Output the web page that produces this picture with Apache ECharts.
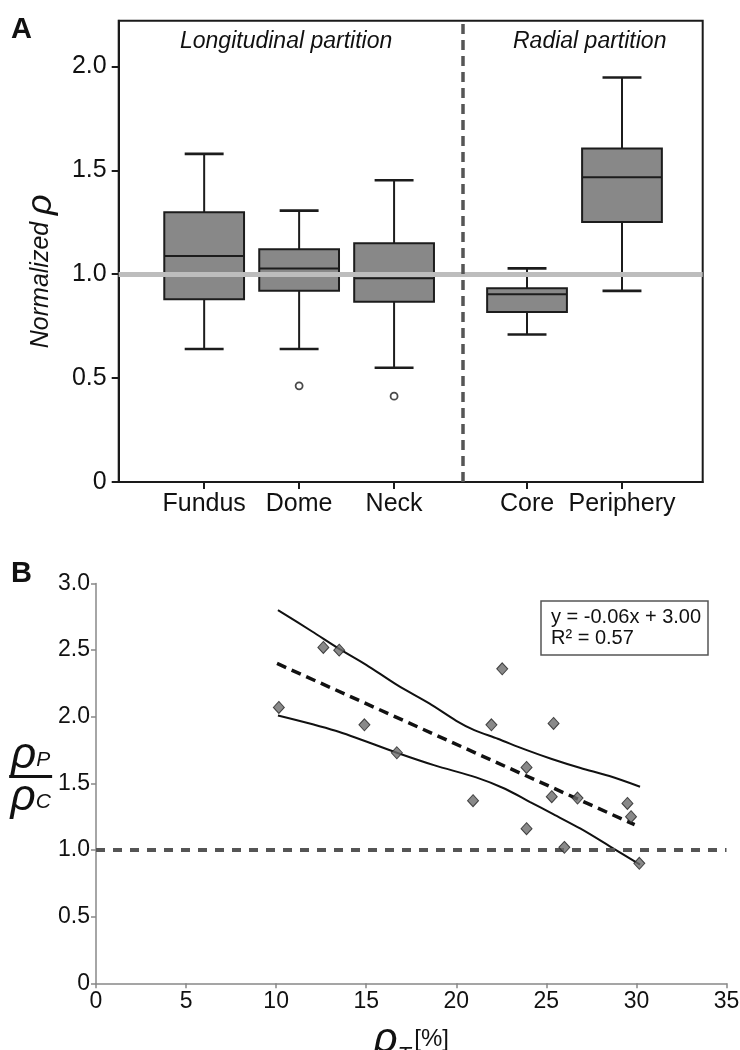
<!DOCTYPE html>
<html>
<head>
<meta charset="utf-8">
<script src="https://cdn.jsdelivr.net/npm/echarts@6/dist/echarts.min.js"></script>
<style>
html,body{margin:0;padding:0;background:#fff;}
#chart{width:740px;height:1050px;}
</style>
</head>
<body>
<div id="chart"></div>
<script>
// ---------- Panel A data ----------
const groups = ['Fundus', 'Dome', 'Neck', 'Core', 'Periphery'];
const groupPositions = [1, 2, 3, 4.4, 5.4];
const whiskerLow = [0.64, 0.64, 0.55, 0.71, 0.92];
const quartile1 = [0.88, 0.92, 0.867, 0.818, 1.251];
const medians = [1.088, 1.028, 0.98, 0.904, 1.467];
const quartile3 = [1.298, 1.12, 1.149, 0.933, 1.605];
const whiskerHigh = [1.579, 1.306, 1.452, 1.028, 1.947];
const outlierGroups = ['Dome', 'Neck'];
const outlierValues = [0.463, 0.413];
const partitionLabels = ['Longitudinal partition', 'Radial partition'];
const partitionBoundary = 3.72;
const referenceLevelA = 1.0;
const yTicksA = [0, 0.5, 1.0, 1.5, 2.0];

// ---------- Panel B data ----------
const rhoT = [10.15, 12.62, 13.5, 14.9, 16.7, 20.93, 21.95, 22.55, 23.9, 23.9, 25.3, 25.4, 26.0, 26.73, 29.5, 29.7, 30.16];
const ratioPC = [2.07, 2.52, 2.50, 1.94, 1.73, 1.37, 1.94, 2.36, 1.62, 1.16, 1.40, 1.95, 1.02, 1.39, 1.35, 1.25, 0.90];
const fitX = [10.05, 29.9];
const fitY = [2.40, 1.19];
const upperBandX = [10.1, 12, 13.5, 15, 16.75, 18.5, 20, 21, 22.3, 23.8, 25.3, 26.9, 28.5, 30.2];
const upperBandY = [2.80, 2.64, 2.51, 2.39, 2.235, 2.10, 1.97, 1.90, 1.835, 1.755, 1.683, 1.615, 1.555, 1.475];
const lowerBandX = [10.1, 13.3, 16.7, 18.8, 21.1, 22.7, 24.1, 25.3, 26.9, 28.5, 30.2];
const lowerBandY = [2.01, 1.895, 1.73, 1.635, 1.545, 1.46, 1.36, 1.275, 1.16, 1.03, 0.89];
const referenceLevelB = 1.0;
const equationLines = ['y = -0.06x + 3.00', 'R\u00B2 = 0.57'];

// ---------- layout / style constants ----------
const FONT = '"Liberation Sans", Arial, sans-serif';
const BOX_WIDTH = 0.84;
const CAP_WIDTH = 0.41;

const boxData = groups.map((g, i) => [groupPositions[i], whiskerLow[i], quartile1[i], medians[i], quartile3[i], whiskerHigh[i]]);
const outlierData = outlierGroups.map((g, i) => [groupPositions[groups.indexOf(g)], outlierValues[i]]);
const scatterData = rhoT.map((x, i) => [x, ratioPC[i]]);
const fitData = fitX.map((x, i) => [x, fitY[i]]);
const upperData = upperBandX.map((x, i) => [x, upperBandY[i]]);
const lowerData = lowerBandX.map((x, i) => [x, lowerBandY[i]]);

const chart = echarts.init(document.getElementById('chart'), null, {renderer: 'canvas'});

const option = {
  backgroundColor: '#ffffff',
  animation: false,
  title: [
    {text: 'A', left: 11, top: 15, padding: 0, textStyle: {fontFamily: FONT, fontSize: 29, fontWeight: 'bold', color: '#111'}},
    {text: 'B', left: 11, top: 559, padding: 0, textStyle: {fontFamily: FONT, fontSize: 29, fontWeight: 'bold', color: '#111'}},
    {text: partitionLabels[0], left: 180, top: 30, padding: 0, textStyle: {fontFamily: FONT, fontSize: 23, fontStyle: 'italic', fontWeight: 'normal', color: '#111'}},
    {text: partitionLabels[1], left: 513, top: 30, padding: 0, textStyle: {fontFamily: FONT, fontSize: 23, fontStyle: 'italic', fontWeight: 'normal', color: '#111'}},
    {text: equationLines.join('\n'), left: 541, top: 601, padding: [6, 7, 6, 10],
      borderColor: '#555', borderWidth: 1.5, backgroundColor: '#fff',
      textStyle: {fontFamily: FONT, fontSize: 20, lineHeight: 21, fontWeight: 'normal', color: '#111'}}
  ],
  grid: [
    {left: 118.7, top: 20.7, width: 584, height: 461.3, show: true, borderColor: '#1a1a1a', borderWidth: 2,
      backgroundColor: 'transparent', outerBoundsMode: 'none', containLabel: false},
    {left: 96, top: 583.5, width: 630.5, height: 399.8, show: false, outerBoundsMode: 'none', containLabel: false}
  ],
  xAxis: [
    {
      type: 'value', gridIndex: 0, min: 0.1, max: 6.25,
      splitLine: {show: false},
      axisLine: {show: true, onZero: false, lineStyle: {color: '#1a1a1a', width: 2}},
      axisTick: {show: true, length: 7, customValues: groupPositions, lineStyle: {color: '#1a1a1a', width: 2}},
      axisLabel: {
        show: true, customValues: groupPositions, margin: 10,
        fontFamily: FONT, fontSize: 25, color: '#111',
        formatter: v => { const i = groupPositions.indexOf(v); return i >= 0 ? groups[i] : ''; }
      }
    },
    {
      type: 'value', gridIndex: 1, min: 0, max: 35, interval: 5,
      splitLine: {show: false},
      axisLine: {show: true, onZero: false, lineStyle: {color: '#888', width: 1.5}},
      axisTick: {show: true, length: 5, lineStyle: {color: '#888', width: 1.5}},
      axisLabel: {margin: 7, fontFamily: FONT, fontSize: 23, color: '#111'},
      name: '{r|\u03C1}{s|T} {u|[%]}',
      nameLocation: 'middle', nameGap: 36,
      nameTextStyle: {
        rich: {
          r: {fontFamily: FONT, fontSize: 42, fontStyle: 'italic', color: '#111', verticalAlign: 'bottom'},
          s: {fontFamily: FONT, fontSize: 22, fontStyle: 'italic', color: '#111', verticalAlign: 'bottom', padding: [0, 0, -6, 0]},
          u: {fontFamily: FONT, fontSize: 24, color: '#111', verticalAlign: 'bottom', padding: [0, 0, 10, 0]}
        }
      }
    }
  ],
  yAxis: [
    {
      type: 'value', gridIndex: 0, min: 0, max: 2.22,
      splitLine: {show: false},
      axisLine: {show: true, onZero: false, lineStyle: {color: '#1a1a1a', width: 2}},
      axisTick: {show: true, length: 7, customValues: yTicksA, lineStyle: {color: '#1a1a1a', width: 2}},
      axisLabel: {
        customValues: yTicksA, margin: 12, fontFamily: FONT, fontSize: 25, color: '#111',
        formatter: v => v === 0 ? '0' : v.toFixed(1)
      },
      name: '{a|Normalized}  {b|\u03C1}',
      nameLocation: 'middle', nameGap: 60,
      nameTextStyle: {
        padding: [0, 40, 0, 0],
        rich: {
          a: {fontFamily: FONT, fontSize: 25, fontStyle: 'italic', color: '#111'},
          b: {fontFamily: FONT, fontSize: 36, fontStyle: 'italic', color: '#111'}
        }
      }
    },
    {
      type: 'value', gridIndex: 1, min: 0, max: 3, interval: 0.5,
      splitLine: {show: false},
      axisLine: {show: true, onZero: false, lineStyle: {color: '#888', width: 1.5}},
      axisTick: {show: true, length: 5, lineStyle: {color: '#888', width: 1.5}},
      axisLabel: {margin: 6, fontFamily: FONT, fontSize: 23, color: '#111',
        formatter: v => v === 0 ? '0' : v.toFixed(1)},
      name: '{r|\u03C1}{s|P}\n{bar|}\n{r|\u03C1}{s|C}',
      nameLocation: 'middle', nameRotate: 0, nameGap: 44,
      nameTextStyle: {
        align: 'center',
        padding: [0, 0, 14, 0],
        rich: {
          r: {fontFamily: FONT, fontSize: 44, fontStyle: 'italic', color: '#111', lineHeight: 36},
          s: {fontFamily: FONT, fontSize: 21, fontStyle: 'italic', color: '#111', lineHeight: 36, padding: [10, 0, 0, 0]},
          bar: {width: 43, height: 3, lineHeight: 6, backgroundColor: '#111'}
        }
      }
    }
  ],
  series: [
    {
      type: 'line', xAxisIndex: 0, yAxisIndex: 0, data: [], z: 1, silent: true,
      markLine: {
        silent: true, symbol: 'none', label: {show: false},
        lineStyle: {color: '#bdbdbd', width: 5, type: 'solid'},
        data: [{yAxis: referenceLevelA}]
      }
    },
    {
      type: 'custom', xAxisIndex: 0, yAxisIndex: 0, z: 3,
      data: boxData,
      encode: {x: 0, y: [1, 2, 3, 4, 5]},
      renderItem: function (params, api) {
        const x = api.value(0);
        const pLow = api.coord([x, api.value(1)]);
        const pQ1 = api.coord([x, api.value(2)]);
        const pMed = api.coord([x, api.value(3)]);
        const pQ3 = api.coord([x, api.value(4)]);
        const pHigh = api.coord([x, api.value(5)]);
        const bw = api.size([BOX_WIDTH, 0])[0];
        const cw = api.size([CAP_WIDTH, 0])[0];
        const cx = pMed[0];
        const st = {stroke: '#1c1c1c', lineWidth: 2, fill: null};
        const cap = {stroke: '#1c1c1c', lineWidth: 2.6, fill: null};
        return {
          type: 'group',
          children: [
            {type: 'line', shape: {x1: cx, y1: pHigh[1], x2: cx, y2: pQ3[1]}, style: st},
            {type: 'line', shape: {x1: cx, y1: pQ1[1], x2: cx, y2: pLow[1]}, style: st},
            {type: 'line', shape: {x1: cx - cw / 2, y1: pHigh[1], x2: cx + cw / 2, y2: pHigh[1]}, style: cap},
            {type: 'line', shape: {x1: cx - cw / 2, y1: pLow[1], x2: cx + cw / 2, y2: pLow[1]}, style: cap},
            {type: 'rect', shape: {x: cx - bw / 2, y: pQ3[1], width: bw, height: pQ1[1] - pQ3[1]},
              style: {fill: '#888888', stroke: '#1c1c1c', lineWidth: 2}},
            {type: 'line', shape: {x1: cx - bw / 2, y1: pMed[1], x2: cx + bw / 2, y2: pMed[1]}, style: st}
          ]
        };
      }
    },
    {
      type: 'scatter', xAxisIndex: 0, yAxisIndex: 0, z: 4,
      symbol: 'circle', symbolSize: 7,
      itemStyle: {color: '#ffffff', borderColor: '#1c1c1c', borderWidth: 1.8},
      data: outlierData
    },
    {
      type: 'line', xAxisIndex: 0, yAxisIndex: 0, data: [], z: 5, silent: true,
      markLine: {
        silent: true, symbol: 'none', label: {show: false},
        lineStyle: {color: '#555555', width: 3.5, type: [10, 6]},
        data: [{xAxis: partitionBoundary}]
      }
    },
    {
      type: 'line', xAxisIndex: 1, yAxisIndex: 1, data: [], z: 2, silent: true,
      markLine: {
        silent: true, symbol: 'none', label: {show: false},
        lineStyle: {color: '#555555', width: 4, type: [9, 8]},
        data: [{yAxis: referenceLevelB}]
      }
    },
    {
      type: 'line', xAxisIndex: 1, yAxisIndex: 1, data: upperData, z: 3,
      smooth: 0.3, showSymbol: false, lineStyle: {color: '#111', width: 2}
    },
    {
      type: 'line', xAxisIndex: 1, yAxisIndex: 1, data: lowerData, z: 3,
      smooth: 0.3, showSymbol: false, lineStyle: {color: '#111', width: 2}
    },
    {
      type: 'line', xAxisIndex: 1, yAxisIndex: 1, data: fitData, z: 3,
      showSymbol: false, lineStyle: {color: '#111', width: 3.5, type: [10, 6]}
    },
    {
      type: 'scatter', xAxisIndex: 1, yAxisIndex: 1, z: 6,
      symbol: 'diamond', symbolSize: [11, 12],
      itemStyle: {color: '#6b6b6b', borderColor: '#222', borderWidth: 1},
      data: scatterData
    }
  ]
};
chart.setOption(option);
</script>
</body>
</html>
